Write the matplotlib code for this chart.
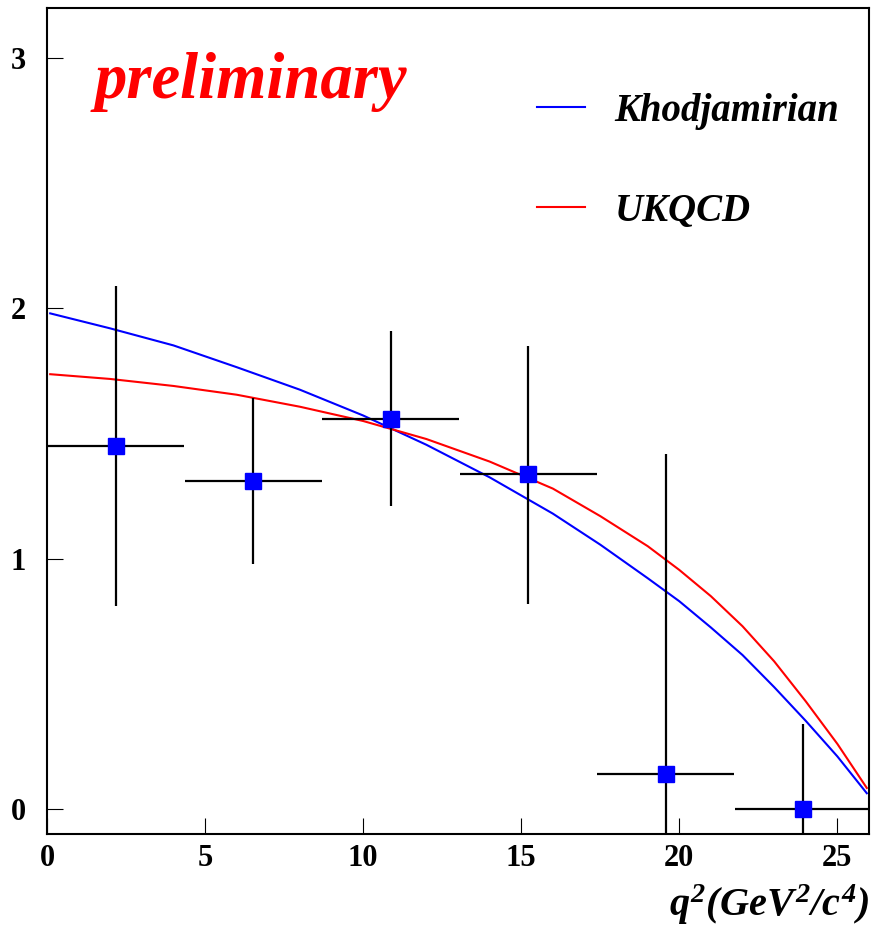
import matplotlib
matplotlib.use("Agg")
import matplotlib.pyplot as plt

plt.rcParams['font.family'] = ['Liberation Serif', 'DejaVu Serif']
plt.rcParams['mathtext.fontset'] = 'custom'
plt.rcParams['mathtext.it'] = 'Liberation Serif:italic:bold'
plt.rcParams['mathtext.rm'] = 'Liberation Serif:italic:bold'
plt.rcParams['mathtext.bf'] = 'Liberation Serif:italic:bold'

# measured points (q2 bin centres, half bin widths, values, errors)
q2_centres = [2.17, 6.52, 10.87, 15.22, 19.57, 23.92]
q2_halfwidth = [2.17, 2.17, 2.17, 2.17, 2.17, 2.17]
values = [1.45, 1.31, 1.56, 1.34, 0.14, 0.0]
err_low = [0.64, 0.33, 0.35, 0.52, 1.28, 0.34]
err_high = [0.64, 0.33, 0.35, 0.51, 1.28, 0.34]

# theory curves
curve_q2 = [0.1, 2, 4, 6, 8, 10, 12, 14, 16, 17.5, 19, 20, 21, 22, 23, 24, 25, 25.93]
khodjamirian = [1.98, 1.92, 1.852, 1.765, 1.675, 1.572, 1.455, 1.325, 1.18, 1.056,
                0.922, 0.83, 0.725, 0.615, 0.487, 0.352, 0.21, 0.063]
ukqcd = [1.737, 1.718, 1.69, 1.655, 1.607, 1.55, 1.478, 1.388, 1.28, 1.17,
         1.05, 0.955, 0.85, 0.73, 0.59, 0.43, 0.26, 0.084]

fig = plt.figure(figsize=(8.71, 9.30), dpi=100)
ax = fig.add_axes([0.054, 0.1032, 0.9437, 0.8882])

ax.plot(curve_q2, khodjamirian, color='#0000ff', lw=1.5, label='Khodjamirian', zorder=2)
ax.plot(curve_q2, ukqcd, color='#ff0000', lw=1.5, label='UKQCD', zorder=2)

ax.errorbar(q2_centres, values, xerr=q2_halfwidth, yerr=[err_low, err_high],
            fmt='none', ecolor='black', elinewidth=1.6, capsize=0, zorder=3)
ax.plot(q2_centres, values, 's', color='#0000ff', markersize=11, zorder=4)

ax.set_xlim(0, 26.0)
ax.set_ylim(-0.1, 3.2)
ax.set_xticks([0, 5, 10, 15, 20, 25])
ax.set_yticks([0, 1, 2, 3])
ax.tick_params(direction='in', length=11.5, width=0.8, labelsize=22)
ax.tick_params(axis='y', pad=15)
ax.tick_params(axis='x', pad=7)
for lab in ax.get_xticklabels() + ax.get_yticklabels():
    lab.set_fontweight('bold')
for sp in ax.spines.values():
    sp.set_linewidth(1.5)

ax.text(0.058, 0.91, 'preliminary', transform=ax.transAxes, color='#ff0000',
        fontsize=46.5, fontweight='bold', fontstyle='italic', va='center')

leg = ax.legend(loc='upper left', bbox_to_anchor=(0.553, 0.94), frameon=False,
                handlelength=1.25, handletextpad=0.75, labelspacing=1.63,
                prop={'size': 28, 'weight': 'bold', 'style': 'italic'})

ax.set_xlabel(r'$q^{2}(GeV^{2}/c^{4})$', loc='right', fontsize=29, labelpad=7)

fig.savefig('out.png', dpi=100)
